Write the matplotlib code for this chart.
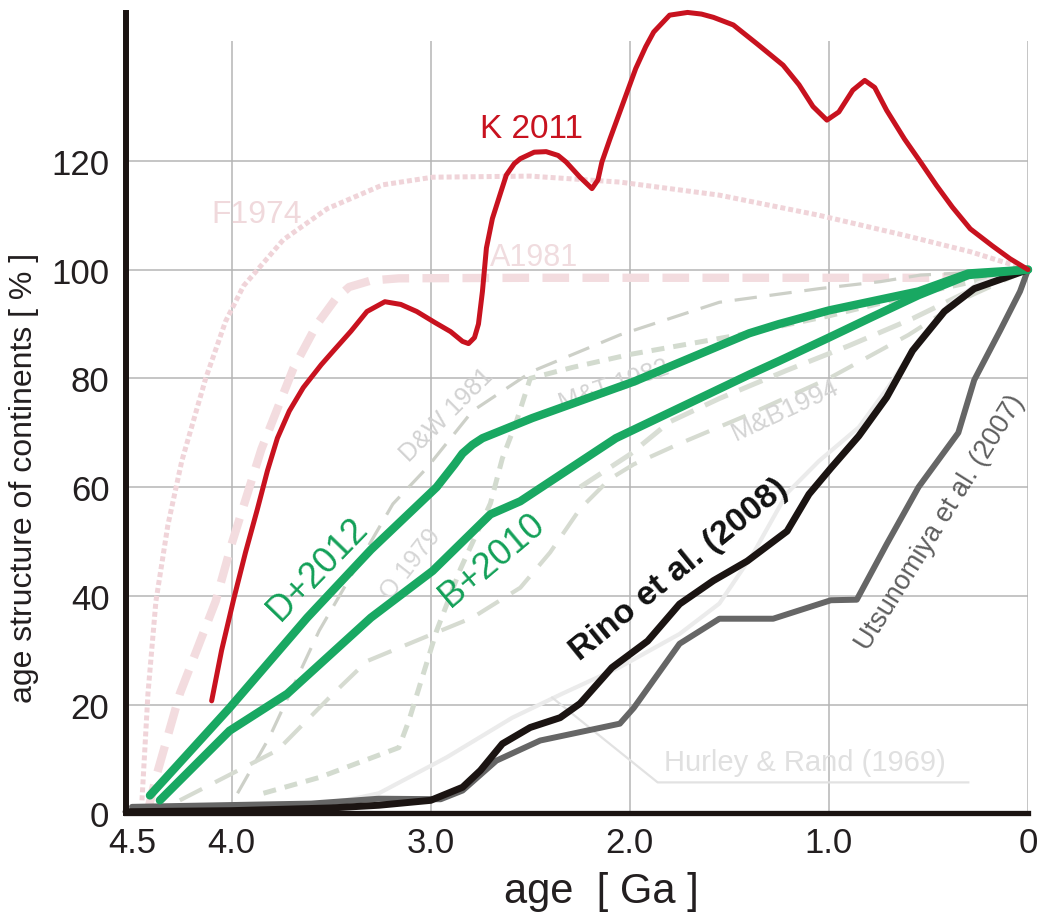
import matplotlib
matplotlib.use("Agg")
import matplotlib.pyplot as plt

plt.rcParams['font.family'] = ['Liberation Sans', 'DejaVu Sans']

# ---- data (age in Ga, value in %) ----
# K 2011 (red)
k2011_age = [4.10, 4.05, 3.99, 3.93, 3.87, 3.82, 3.77, 3.71, 3.64, 3.55, 3.49, 3.40, 3.32,
             3.23, 3.15, 3.07, 2.98, 2.90, 2.84, 2.81, 2.78, 2.76, 2.74, 2.72, 2.69, 2.65,
             2.62, 2.58, 2.55, 2.48, 2.42, 2.36, 2.32, 2.25, 2.19, 2.16, 2.14, 2.10, 2.05,
             2.01, 1.97, 1.92, 1.88, 1.80, 1.71, 1.64, 1.58, 1.48, 1.36, 1.23, 1.15, 1.08,
             1.01, 0.95, 0.88, 0.82, 0.77, 0.71, 0.62, 0.54, 0.46, 0.38, 0.29, 0.18, 0.09, 0.0]
k2011_val = [20.7, 30.0, 39.3, 48.0, 56.0, 63.0, 69.0, 74.0, 78.3, 82.5, 85.0, 88.7, 92.3,
             94.1, 93.6, 92.3, 90.3, 88.6, 86.8, 86.4, 87.5, 90.0, 96.0, 104.0, 109.4, 114.0,
             117.4, 119.5, 120.4, 121.6, 121.7, 121.0, 119.8, 117.0, 114.9, 116.5, 119.8, 124.0, 129.0,
             133.0, 137.0, 141.0, 143.7, 146.8, 147.3, 147.0, 146.4, 145.0, 141.5, 137.6, 134.0, 130.0,
             127.5, 129.0, 133.0, 134.8, 133.5, 129.3, 124.0, 119.8, 115.5, 111.5, 107.5, 104.4, 102.0, 100.0]

# F1974 (pink dotted)
f1974_age = [4.45, 4.42, 4.38, 4.32, 4.25, 4.13, 4.03, 3.94, 3.74, 3.52, 3.24, 2.99, 2.50, 2.05,
             1.55, 1.05, 0.63, 0.29, 0.0]
f1974_val = [2.4, 22.0, 39.0, 53.0, 64.8, 80.0, 90.5, 97.0, 105.5, 111.2, 115.6, 117.0, 117.2, 116.1,
             113.7, 110.0, 106.4, 103.3, 100.0]

# A1981 (pink dashed)
a1981_age = [4.42, 4.38, 4.26, 4.08, 4.00, 3.85, 3.69, 3.57, 3.48, 3.41, 3.30, 3.16, 2.50, 1.50, 0.50, 0.20, 0.0]
a1981_val = [0.5, 6.6, 22.0, 39.0, 49.5, 67.0, 81.8, 90.0, 94.5, 96.8, 98.0, 98.4, 98.5, 98.5, 98.5, 99.0, 100.0]

# D&W 1981
dw1981_age = [3.97, 3.81, 3.56, 3.19, 3.02, 2.79, 2.49, 2.05, 1.55, 1.25, 1.05, 0.74, 0.54, 0.0]
dw1981_val = [3.7, 14.0, 33.6, 56.9, 63.5, 74.0, 81.3, 88.0, 94.0, 95.5, 96.5, 97.8, 99.0, 100.0]

# M&T 1982
mt1982_age = [3.84, 3.56, 3.16, 3.11, 2.97, 2.85, 2.70, 2.64, 2.57, 2.50, 2.29, 2.00, 1.45, 1.00, 0.50, 0.0]
mt1982_val = [3.7, 6.6, 12.1, 17.0, 33.6, 45.0, 57.0, 65.3, 72.0, 80.0, 82.0, 84.4, 88.0, 91.5, 96.0, 100.0]

# O 1979
o1979_age = [4.26, 3.77, 3.49, 3.32, 2.99, 2.79, 2.55, 2.40, 2.25, 2.10, 1.98, 1.75, 1.40, 1.00, 0.60, 0.30, 0.0]
o1979_val = [2.4, 11.6, 22.0, 28.0, 33.0, 36.0, 41.5, 48.0, 56.0, 61.5, 64.2, 68.0, 73.4, 80.0, 88.0, 95.0, 100.0]

# M&B1994
mb1994_age = [2.25, 2.00, 1.80, 1.55, 1.21, 0.90, 0.58, 0.30, 0.0]
mb1994_val = [60.0, 66.0, 72.0, 76.3, 81.5, 86.0, 91.0, 96.0, 100.0]

# Hurley & Rand (1969)
hr1969_age = [4.50, 3.70, 3.40, 3.26, 2.92, 2.59, 2.34, 2.05, 1.75, 1.55, 1.38, 1.21, 1.05,
              0.85, 0.70, 0.55, 0.40, 0.25, 0.0]
hr1969_val = [0.3, 1.0, 2.6, 3.7, 10.3, 17.6, 22.0, 26.9, 33.0, 38.6, 47.8, 58.9, 64.8,
              71.0, 78.5, 87.0, 93.5, 97.5, 100.0]

# Utsunomiya et al. (2007)
uts_age = [4.50, 3.60, 3.26, 2.95, 2.84, 2.67, 2.45, 2.05, 1.98, 1.75, 1.55, 1.28, 0.99, 0.86,
           0.71, 0.55, 0.35, 0.27, 0.14, 0.04, 0.0]
uts_val = [1.2, 1.8, 2.7, 2.6, 4.2, 9.7, 13.4, 16.5, 19.4, 31.2, 35.8, 35.8, 39.2, 39.3,
           49.5, 60.0, 70.0, 79.7, 88.8, 96.0, 100.0]

# Rino et al. (2008)
rino_age = [4.53, 4.00, 3.50, 3.26, 3.00, 2.84, 2.75, 2.64, 2.50, 2.35, 2.25, 2.09, 1.91, 1.75,
            1.58, 1.41, 1.21, 1.10, 0.99, 0.85, 0.71, 0.58, 0.42, 0.27, 0.0]
rino_val = [0.3, 0.5, 1.0, 1.5, 2.4, 4.8, 7.9, 12.8, 15.8, 17.6, 20.2, 26.8, 31.7, 38.5,
            42.8, 46.4, 51.9, 58.7, 63.5, 69.4, 76.5, 85.1, 92.3, 96.5, 100.0]

# D+2012
d2012_age = [4.41, 4.01, 3.62, 3.30, 2.97, 2.88, 2.84, 2.79, 2.74, 2.49, 1.98, 1.40, 1.25, 1.00, 0.55, 0.30, 0.0]
d2012_val = [3.3, 19.4, 36.0, 48.5, 60.0, 64.2, 66.2, 67.8, 69.0, 72.7, 79.4, 88.3, 90.0, 92.5, 96.0, 99.3, 100.0]

# B+2010
b2010_age = [4.36, 4.01, 3.72, 3.30, 2.99, 2.70, 2.55, 2.07, 1.40, 1.25, 1.00, 0.80, 0.55, 0.30, 0.0]
b2010_val = [2.4, 15.2, 22.0, 36.0, 44.6, 55.0, 57.4, 69.0, 80.7, 83.2, 87.5, 91.0, 95.3, 99.0, 100.0]

# Hurley & Rand label leader
hr_lead_age = [2.39, 1.86, 0.30]
hr_lead_val = [21.3, 5.7, 5.7]

x_ticks = [4.5, 4.0, 3.0, 2.0, 1.0, 0.0]
x_labels = ["4.5", "4.0", "3.0", "2.0", "1.0", "0"]
y_ticks = [0, 20, 40, 60, 80, 100, 120]
grid_x = [4.0, 3.0, 2.0, 1.0, 0.0]
grid_y = [20, 40, 60, 80, 100, 120]

# ---- figure ----
fig = plt.figure(figsize=(10.46, 9.2), dpi=100)
ax = fig.add_axes([0.1205, 0.1148, 0.8623, 0.87])
ax.set_xlim(4.53, 0)
ax.set_ylim(0, 147.2)

ax.hlines(grid_y, 4.53, 0, color='#b5b5b5', lw=1.1, zorder=0)
ax.vlines(grid_x, 0, 142, color='#b5b5b5', lw=1.1, zorder=0)

cap = dict(solid_capstyle='round', solid_joinstyle='round', clip_on=False)
dcap = dict(dash_capstyle='butt', clip_on=False)

ax.plot(f1974_age, f1974_val, color='#f0d4d9', lw=3.6, ls=(0, (1.0, 0.6)), zorder=1, **dcap)
ax.plot(a1981_age, a1981_val, color='#f3dcdf', lw=6, ls=(0, (3.2, 1.6)), zorder=1, **dcap)
ax.plot(dw1981_age, dw1981_val, color='#cdd0c8', lw=2.3, ls=(0, (7, 4)), zorder=2, **dcap)
ax.plot(o1979_age, o1979_val, color='#d6dbd1', lw=3.0, ls=(0, (6, 3.5)), zorder=2, **dcap)
ax.plot(mb1994_age, mb1994_val, color='#d9ded5', lw=3.6, ls=(0, (5, 2.5)), zorder=2, **dcap)
ax.plot(mt1982_age, mt1982_val, color='#d3dbcf', lw=3.6, ls=(0, (2.6, 1.8)), zorder=2, **dcap)
ax.plot(hr1969_age, hr1969_val, color='#ebebeb', lw=3.0, zorder=2, **cap)
ax.plot(hr_lead_age, hr_lead_val, color='#e2e2e2', lw=1.6, zorder=2, clip_on=False)

ax.plot(uts_age, uts_val, color='#666666', lw=4.3, zorder=3, **cap)
ax.plot(rino_age, rino_val, color='#1b1412', lw=5.0, zorder=4, **cap)
ax.plot(b2010_age, b2010_val, color='#19a862', lw=6, zorder=5, **cap)
ax.plot(d2012_age, d2012_val, color='#19a862', lw=6, zorder=5, **cap)
ax.plot(k2011_age, k2011_val, color='#c8121f', lw=3.6, zorder=6, **cap)

# ---- labels on curves ----
ax.text(2.75, 124.4, "K 2011", color='#c8121f', fontsize=24, ha='left', va='baseline', zorder=7)
ax.text(4.10, 108.8, "F1974", color='#f0d9dc', fontsize=23, ha='left', va='baseline', zorder=1)
ax.text(2.70, 100.9, "A1981", color='#f0dcdf', fontsize=22, ha='left', va='baseline', zorder=1)
ax.text(2.92, 73.4, "D&W 1981", color='#d2d2d2', fontsize=18, rotation=45,
        ha='center', va='center', rotation_mode='anchor', zorder=2)
ax.text(2.08, 78.9, "M&T 1982", color='#d4d4d4', fontsize=18, rotation=19,
        ha='center', va='center', rotation_mode='anchor', zorder=2)
ax.text(1.22, 74.3, "M&B1994", color='#d4d4d4', fontsize=19, rotation=25,
        ha='center', va='center', rotation_mode='anchor', zorder=2)
ax.text(3.10, 45.9, "O 1979", color='#d6d6d6', fontsize=18, rotation=52,
        ha='center', va='center', rotation_mode='anchor', zorder=2)
ax.text(1.83, 7.9, "Hurley & Rand (1969)", color='#e0e0e0', fontsize=21,
        ha='left', va='baseline', zorder=2)
ax.text(3.57, 45.1, "D+2012", color='#13a058', fontsize=26, rotation=46,
        ha='center', va='center', rotation_mode='anchor', zorder=7)
ax.text(2.69, 46.8, "B+2010", color='#13a058', fontsize=26, rotation=40,
        ha='center', va='center', rotation_mode='anchor', zorder=7)
ax.text(1.75, 45.0, "Rino et al. (2008)", color='#111111', fontsize=24.5, fontweight='bold',
        rotation=39, ha='center', va='center', rotation_mode='anchor', zorder=7)
ax.text(0.44, 53.6, "Utsunomiya et al. (2007)", color='#5e5e5e', fontsize=19.5,
        rotation=58, ha='center', va='center', rotation_mode='anchor', zorder=7)

# ---- axes styling ----
for s in ['top', 'right']:
    ax.spines[s].set_visible(False)
ax.spines['left'].set_linewidth(4.3)
ax.spines['bottom'].set_linewidth(3.8)
ax.spines['left'].set_color('#1b1412')
ax.spines['bottom'].set_color('#1b1412')
ax.spines['left'].set_zorder(8)
ax.spines['bottom'].set_zorder(8)

ax.set_xticks(x_ticks)
ax.set_xticklabels(x_labels)
ax.set_yticks(y_ticks)
ax.tick_params(length=0, labelsize=25, colors='#231f20')
ax.tick_params(axis='y', pad=12)
ax.tick_params(axis='x', pad=9)

ax.set_ylabel("age structure of continents [ % ]", fontsize=23, color='#231f20')
ax.yaxis.set_label_coords(-0.097, 0.42)
fig.text(601 / 1046, (920 - 903) / 920, "age  [ Ga ]", fontsize=30, color='#231f20',
         ha='center', va='baseline')

fig.savefig("out.png", dpi=100)
